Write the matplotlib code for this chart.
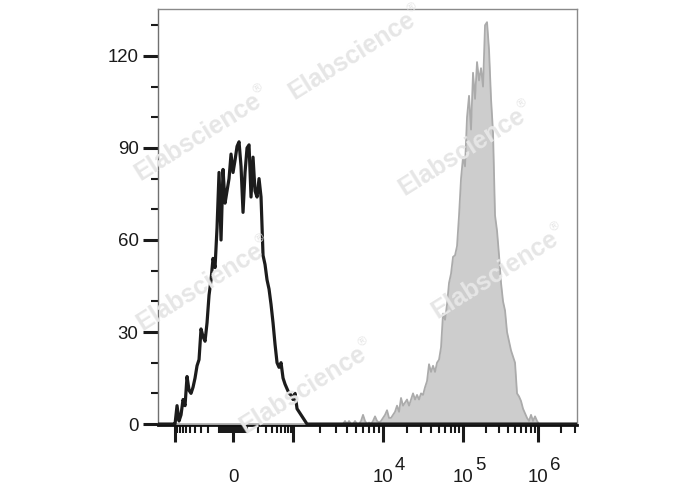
import matplotlib.pyplot as plt
import numpy as np
from matplotlib.ticker import FixedLocator, NullFormatter

plt.rcParams['font.family'] = ['Liberation Sans', 'DejaVu Sans']

# biexponential-like display: intensity knots -> display channel
scale_values = [-1e4, -1e3, 0, 1e3, 1e4, 1e5, 1e6, 1e7]
scale_channels = [-150, -58, 0, 60, 150, 230, 305, 382]
W = 150.0
A = np.arcsinh(np.array(scale_values) / W)
C = np.array(scale_channels, dtype=float)

def forward(x):
    return np.interp(np.arcsinh(np.asarray(x, dtype=float) / W), A, C)

def inverse(c):
    return W * np.sinh(np.interp(np.asarray(c, dtype=float), C, A))

# histogram data (display channels, 2 channels per bin) and counts
black_ch = np.arange(-60, 76, 2)
black_counts = [0, 0, 6, 1, 3, 8, 6, 15.5, 11, 10,
                12, 15, 19, 21, 31, 28.5, 27, 33, 42, 47,
                54, 51, 64, 82, 60, 83, 72, 76, 80, 88,
                82, 86, 90.5, 92, 84, 69, 82, 90, 91, 74,
                87, 76, 74, 80, 74, 55, 52, 47, 44, 39,
                33, 26, 20, 18.5, 20, 15, 13, 11.5, 10, 9.5,
                8, 10, 5, 4, 3, 2, 1, 0]

gray_ch = np.arange(108, 310, 2)
gray_counts = [0, 0, 1, 0, 1, 0, 0, 1, 0, 0,
               1, 3, 1, 0, 0.5, 0, 1, 2.5, 1, 0.5,
               1, 2, 3, 4.5, 2, 2, 3, 4, 6, 4,
               8.5, 6, 7, 8, 6, 8, 10, 8, 9.5, 8,
               10, 9.5, 12, 14, 19.5, 17, 19, 17, 20, 21,
               25, 36, 34, 39, 46, 49, 54.5, 55, 58, 68,
               80, 87, 84, 100, 107, 96, 114.5, 106, 118, 112,
               116, 110, 130, 131, 122, 106, 95, 68, 63, 55,
               46, 40, 37, 30, 27, 24, 22, 20, 10, 9,
               7.5, 5, 3.5, 2, 1, 3, 1, 2.5, 1, 0, 0]

y_major = [0, 30, 60, 90, 120]
y_minor = [10, 20, 40, 50, 70, 80, 100, 110, 130]
x_major = [-1e3, 0, 1e3, 1e4, 1e5, 1e6]
x_labels = {0: ('0', None), 1e4: ('10', '4'), 1e5: ('10', '5'), 1e6: ('10', '6')}

lin = np.arange(10, 100, 10)
x_minor = sorted(list(-lin) + list(lin) + list(-lin * 10) + list(lin * 10)
                 + list(lin[1:] * 100) + list(lin[1:] * 1000) + list(lin[1:] * 10000)
                 + [2e6, 3e6])

xmin, xmax = inverse(-75), inverse(344)

fig = plt.figure(figsize=(6.88, 4.90), dpi=100)
ax = fig.add_axes([0.2297, 0.1327, 0.609, 0.849])
ax.set_xscale('function', functions=(forward, inverse))

# watermarks
ang = 32
ca, sa = np.cos(np.radians(ang)), np.sin(np.radians(ang))
marks = [(198, 137), (352, 56), (462, 152), (200, 287), (495, 275), (303, 390)]
for mx, my in marks:
    fig.text(mx / 688, 1 - my / 490, 'Elabscience', rotation=ang,
             ha='center', va='center', fontsize=18, fontweight='bold',
             color='#e6e6e6', zorder=0)
    rx = mx + 76 * ca - 9 * sa
    ry = my - 76 * sa - 9 * ca
    fig.text(rx / 688, 1 - ry / 490, '\u00ae', rotation=ang,
             ha='center', va='center', fontsize=9,
             color='#e6e6e6', zorder=0)

bx = inverse(black_ch)
gx = inverse(gray_ch)
gx_full = np.concatenate([[xmin], gx, [xmax]])
gy_full = np.concatenate([[0], gray_counts, [0]])
bx_full = np.concatenate([[xmin], bx, [xmax]])
by_full = np.concatenate([[0], black_counts, [0]])

ax.fill_between(gx_full, 0, gy_full, color='#cdcdcd', lw=0, zorder=3)
ax.plot(gx_full, gy_full, color='#ababab', lw=1.3, zorder=3.5)
ax.plot(bx_full, by_full, color='#1c1c1c', lw=2.3, zorder=4)

ax.set_xlim(xmin, xmax)
ax.set_ylim(-0.3, 135.3)
ax.patch.set_alpha(0)

ax.yaxis.set_major_locator(FixedLocator(y_major))
ax.yaxis.set_minor_locator(FixedLocator(y_minor))
ax.xaxis.set_major_locator(FixedLocator(x_major))
ax.xaxis.set_minor_locator(FixedLocator(x_minor))
ax.xaxis.set_major_formatter(NullFormatter())
ax.xaxis.set_minor_formatter(NullFormatter())

ax.tick_params(axis='y', which='major', length=11, width=2.2, color='#1a1a1a',
               pad=3, labelsize=13.4, labelcolor='#1a1a1a')
ax.tick_params(axis='y', which='minor', length=5, width=1.5, color='#1a1a1a')
ax.tick_params(axis='x', which='major', length=12, width=2.2, color='#1a1a1a')
ax.tick_params(axis='x', which='minor', length=6, width=1.5, color='#1a1a1a')

for side in ['top', 'right']:
    ax.spines[side].set_color('#8a8a8a')
    ax.spines[side].set_linewidth(1)
ax.spines['left'].set_color('#707070')
ax.spines['left'].set_linewidth(1)
ax.spines['bottom'].set_color('#111111')
ax.spines['bottom'].set_linewidth(2)

for v, (base, exp) in x_labels.items():
    ax.annotate(base, xy=(v, 0), xycoords=('data', 'axes fraction'),
                xytext=(0, -57), textcoords='offset pixels',
                ha='center', va='baseline', fontsize=13.4, color='#1a1a1a')
    if exp:
        ax.annotate(exp, xy=(v, 0), xycoords=('data', 'axes fraction'),
                    xytext=(12, -45), textcoords='offset pixels',
                    ha='left', va='baseline', fontsize=13.4, color='#1a1a1a')

fig.savefig('out.png', dpi=100)
